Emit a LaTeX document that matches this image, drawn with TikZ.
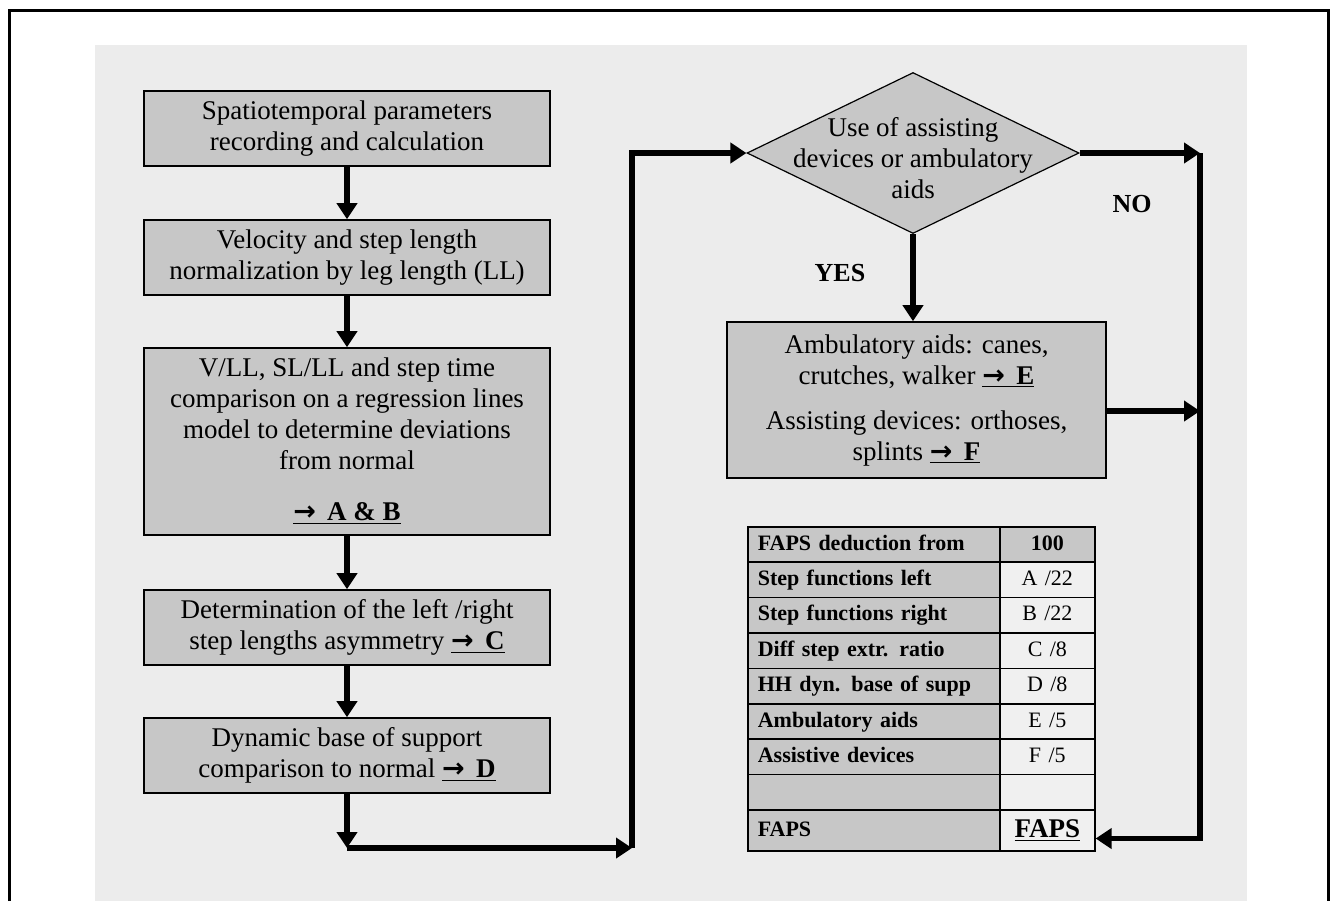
\documentclass[tikz,border=0pt]{standalone}
\usepackage{fontspec}
\setmainfont{Liberation Serif}
\newfontfamily\arrowfont{DejaVu Sans}
\usetikzlibrary{shapes.geometric,arrows.meta}
\definecolor{bggray}{gray}{0.925}
\definecolor{boxgray}{gray}{0.78}
\definecolor{cellgray}{gray}{0.94}
\tikzset{
  box/.style={draw, line width=0.8pt, fill=boxgray, align=center, minimum width=203pt, minimum height=37.5pt, inner sep=0pt, font=\fontsize{13.5}{15.5}\selectfont},
  arr/.style={line width=2.6pt, -{Triangle[length=8pt,width=10pt]}},
  lbl/.style={font=\fontsize{13}{15}\selectfont\bfseries},
  lcell/.style={draw, line width=0.8pt, fill=boxgray, anchor=north west, minimum width=126pt, text width=116pt, align=left, minimum height=17.7pt, text height=8pt, text depth=2.5pt, inner xsep=5pt, inner ysep=0pt, font=\fontsize{11}{13}\selectfont\bfseries},
  rcell/.style={draw, line width=0.8pt, fill=cellgray, anchor=north west, minimum width=47.5pt, text width=37.5pt, align=center, minimum height=17.7pt, text height=8pt, text depth=2.5pt, inner xsep=5pt, inner ysep=0pt, font=\fontsize{11}{13}\selectfont},
}
\newcommand{\res}[1]{\underline{\textbf{{\arrowfont\bfseries →}\, #1}}}

\begin{document}
\begin{tikzpicture}[x=0.5pt,y=-0.5pt]
\useasboundingbox (0,0) rectangle (1331,901);
\fill[bggray] (95,45) rectangle (1247,901);
\draw[line width=1.5pt] (9,901) -- (9,10) -- (1328,10) -- (1328,901);

\node[box] (rec) at (347,128.5) {Spatiotemporal parameters\\recording and calculation};
\node[box] (norm) at (347,257.5) {Velocity and step length\\normalization by leg length (LL)};
\node[box, minimum height=93.5pt] (regr) at (347,441.5) {V/LL, SL/LL and step time\\comparison on a regression lines\\model to determine deviations\\from normal\\[10pt]\res{A \& B}};
\node[box] (asym) at (347,627.5) {Determination of the left /right\\step lengths asymmetry \res{C}};
\node[box] (cmp) at (347,755.5) {Dynamic base of support\\comparison to normal \res{D}};

\node[draw, line width=0.6pt, fill=boxgray, diamond, minimum width=166pt, minimum height=80.5pt, inner sep=0pt,
  label={[font=\fontsize{13.5}{15.5}\selectfont, align=center, yshift=-2.5pt]center:{Use of assisting\\devices or ambulatory\\aids}}] (dev) at (913,153) {};
\node[box, minimum width=189.5pt, minimum height=78pt] (aids) at (916.5,400) {Ambulatory aids: canes,\\crutches, walker \res{E}\\[7pt]Assisting devices: orthoses,\\splints \res{F}};

\node[lbl] (yes) at (840,273) {YES};
\node[lbl] (nolbl) at (1132,204) {NO};

\node[lcell] (l1) at (747,526) {FAPS deduction from};
\node[rcell, fill=boxgray, font=\fontsize{11}{13}\selectfont\bfseries] (r1) at (999,526) {100};
\foreach \lbl/\val [count=\i from 2] in {Step functions left/{A /22}, Step functions right/{B /22}, Diff step extr. ratio/{C /8}, HH dyn. base of supp/{D /8}, Ambulatory aids/{E /5}, Assistive devices/{F /5}} {
  \node[lcell] (l\i) at (747,{526+(\i-1)*35.4}) {\lbl};
  \node[rcell] (r\i) at (999,{526+(\i-1)*35.4}) {\val};
}
\node[lcell] (l8) at (747,773.8) {};
\node[rcell] (r8) at (999,773.8) {};
\node[lcell, minimum height=20.5pt] (l9) at (747,809.2) {FAPS};
\node[rcell, minimum height=20.5pt, text height=10pt, text depth=3pt, font=\fontsize{13.5}{15}\selectfont\bfseries] (r9) at (999,809.2) {\underline{FAPS}};

\coordinate (lo) at (347,848);
\coordinate (lc) at (632,848);
\coordinate (no) at (1200,153);
\draw[arr] (rec) -- (norm);
\draw[arr] (norm) -- (regr);
\draw[arr] (regr) -- (asym);
\draw[arr] (asym) -- (cmp);
\draw[arr] (cmp) -- (lo);
\draw[arr] (lo) -- (lc);
\draw[arr] (lc) |- (dev.west);
\draw[arr] (dev.east) -- (no);
\draw[arr] (dev.south) -- (dev.south |- aids.north);
\draw[arr] ([yshift=-5.5pt]aids.east) -- ([yshift=-5.5pt]aids.east -| no);
\draw[arr] (no) |- ([yshift=-4pt]r9.east);
\end{tikzpicture}
\end{document}
